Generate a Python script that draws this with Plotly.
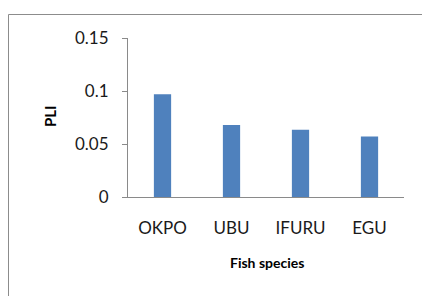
import plotly.graph_objects as go

categories = ["OKPO", "UBU", "IFURU", "EGU"]
pli_values = [0.097, 0.068, 0.0635, 0.057]
y_ticks = [0, 0.05, 0.1, 0.15]
y_tick_labels = ["0", "0.05", "0.1", "0.15"]

# plot area geometry (pixels)
L, R, T, B = 128, 404, 38, 197
W, H = 422, 296
pw, ph = R - L, B - T

def px(x):
    return (x - L) / pw

def py(y):
    return (B - y) / ph

FONT = "Lato"

fig = go.Figure()
fig.add_trace(go.Bar(
    x=categories, y=pli_values, width=0.25,
    marker=dict(color="#4F81BD", line=dict(width=0)),
))

fig.update_layout(
    width=W, height=H,
    margin=dict(l=L, r=W - R, t=T, b=H - B, pad=0),
    paper_bgcolor="white", plot_bgcolor="white",
    showlegend=False,
    font=dict(family=FONT, size=17, color="#000000"),
    xaxis=dict(
        showline=True, linecolor="#8a8a8a", linewidth=1,
        ticks="", showgrid=False, zeroline=False,
        ticklabelstandoff=16,
        tickfont=dict(family=FONT, size=17, color="#1a1a1a"),
    ),
    yaxis=dict(
        range=[0, 0.15], tickvals=y_ticks, ticktext=y_tick_labels,
        showline=True, linecolor="#8a8a8a", linewidth=1,
        ticks="outside", ticklen=5, tickcolor="#8a8a8a",
        showgrid=False, zeroline=False,
        ticklabelstandoff=10,
        tickfont=dict(family=FONT, size=17, color="#1a1a1a"),
    ),
    annotations=[
        dict(text="<b>PLI</b>", xref="paper", yref="paper",
             x=px(50), y=py(116), xanchor="center", yanchor="middle",
             textangle=-90, showarrow=False,
             font=dict(family=FONT, size=15, color="#000000")),
        dict(text="<b>Fish species</b>", xref="paper", yref="paper",
             x=px(267), y=py(262), xanchor="center", yanchor="middle",
             showarrow=False,
             font=dict(family=FONT, size=14, color="#000000")),
    ],
    shapes=[
        dict(type="rect", xref="paper", yref="paper",
             x0=px(8.5), x1=px(425), y0=py(300), y1=py(14.5),
             line=dict(color="#8c8c8c", width=1), fillcolor="rgba(0,0,0,0)",
             layer="below"),
    ],
)

fig.write_html(
    "out.html",
    config={"displayModeBar": False},
    post_script="document.body.style.margin='0';document.body.style.overflow='hidden';",
)
